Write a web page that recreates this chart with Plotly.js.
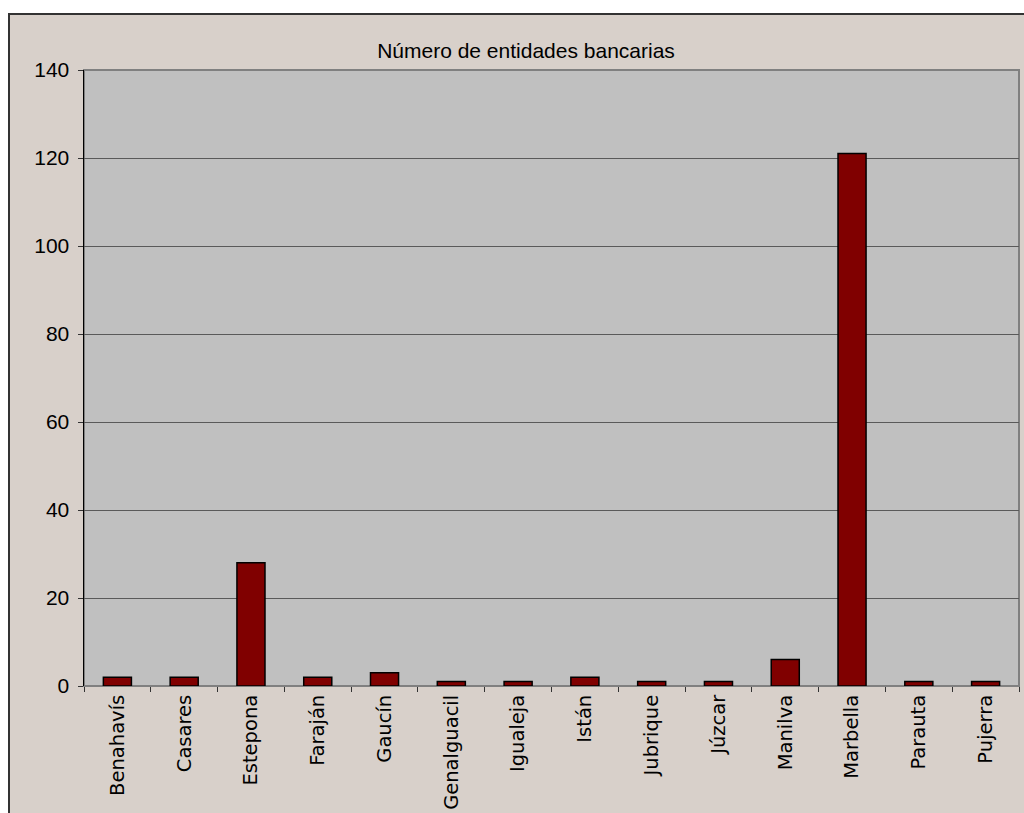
<!DOCTYPE html>
<html>
<head>
<meta charset="utf-8">
<script src="https://cdn.plot.ly/plotly-3.0.1.min.js"></script>
<style>
html,body{margin:0;padding:0;background:#ffffff;overflow:hidden;}
#frame{position:absolute;left:8px;top:13px;width:1020px;height:806px;border-top:2px solid #333333;border-left:2px solid #333333;background:#d8d0ca;}
#chart{position:absolute;left:0;top:0;width:1014px;height:798px;}
</style>
</head>
<body>
<div id="frame"><div id="chart"></div></div>
<script>
const municipios = ["Benahavís","Casares","Estepona","Faraján","Gaucín","Genalguacil","Igualeja","Istán","Jubrique","Júzcar","Manilva","Marbella","Parauta","Pujerra"];
const entidades = [2,2,28,2,3,1,1,2,1,1,6,121,1,1];
const chartTitle = "Número de entidades bancarias";

const trace = {
  type: "bar",
  x: municipios,
  y: entidades,
  marker: {color: "#800000", line: {color: "#000000", width: 1.5}},
  hoverinfo: "x+y"
};

const layout = {
  width: 1014, height: 798,
  margin: {l: 74, r: 5, t: 55, b: 127},
  paper_bgcolor: "#d8d0ca",
  plot_bgcolor: "#c0c0c0",
  bargap: 0.58,
  showlegend: false,
  title: {text: chartTitle, font: {family: "Liberation Sans, Arial, sans-serif", size: 21, color: "#000"},
          xref: "container", x: 516/1014, xanchor: "center", yref: "container", y: 1 - 36/798, yanchor: "middle"},
  xaxis: {
    type: "category",
    tickangle: -90,
    tickfont: {family: "DejaVu Sans, sans-serif", size: 19.5, color: "#000"},
    showline: true, linecolor: "#808080", linewidth: 1,
    ticks: "outside", ticklen: 5, tickcolor: "#333", tickson: "boundaries",
    showgrid: false, fixedrange: true
  },
  yaxis: {
    range: [0, 140], dtick: 20, tick0: 0,
    tickfont: {family: "Liberation Sans, Arial, sans-serif", size: 21, color: "#000"},
    showline: true, linecolor: "#000000", linewidth: 1.5,
    ticks: "outside", ticklen: 5, tickcolor: "#333", ticklabelstandoff: 4,
    showgrid: true, gridcolor: "#5a5a5a", gridwidth: 1,
    zeroline: false, fixedrange: true
  },
  shapes: [{type: "rect", xref: "paper", yref: "paper", x0: 0, x1: 1, y0: 0, y1: 1,
            line: {color: "#808080", width: 2}, fillcolor: "rgba(0,0,0,0)", layer: "below"}]
};

Plotly.newPlot("chart", [trace], layout, {displayModeBar: false, staticPlot: true});
</script>
</body>
</html>
